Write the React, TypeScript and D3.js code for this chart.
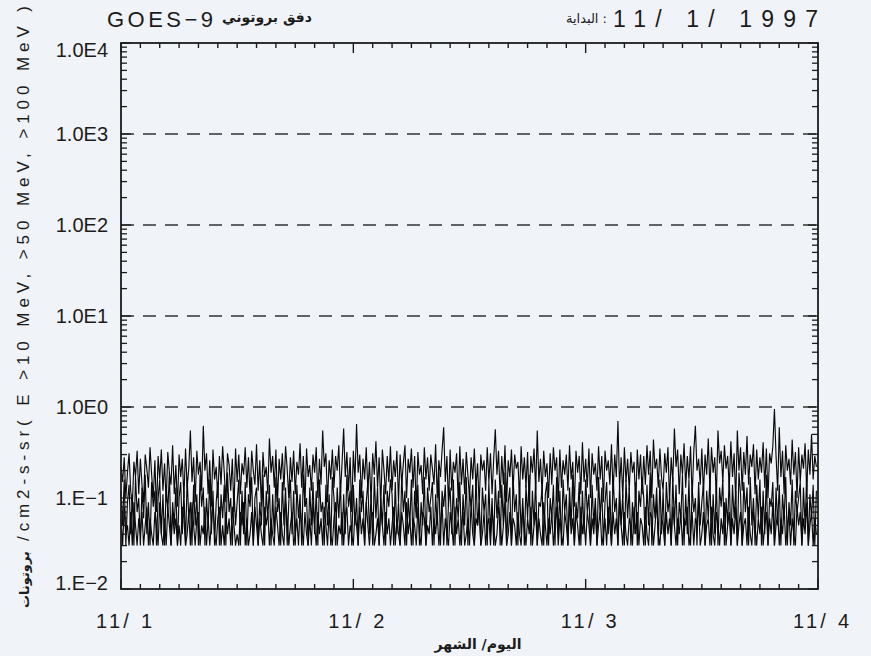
import React from 'react';
import * as d3 from 'd3';

// 10-minute samples over 3 days (11/1 - 11/4 1997), GOES-9 proton flux
const STEP_HOURS = 1 / 6;

const P10 = [
  .22,.15,.28,.10,.19,.31,.12,.08,.25,.17,.33,.11,
  .27,.14,.09,.30,.21,.13,.36,.18,.10,.26,.07,.29,
  .16,.34,.12,.24,.09,.32,.19,.14,.38,.11,.23,.08,
  .30,.17,.27,.10,.35,.13,.21,.55,.15,.28,.09,.33,
  .18,.25,.12,.62,.20,.31,.11,.26,.08,.34,.16,.22,
  .10,.29,.14,.37,.19,.09,.31,.23,.12,.27,.07,.35,
  .15,.30,.11,.24,.18,.36,.13,.28,.10,.33,.20,.14,
  .39,.12,.26,.08,.32,.17,.22,.11,.45,.19,.29,.13,
  .34,.09,.27,.16,.31,.12,.37,.21,.10,.28,.15,.33,
  .11,.25,.18,.40,.13,.29,.08,.35,.17,.23,.12,.30,
  .19,.36,.10,.27,.14,.55,.22,.31,.09,.26,.16,.34,
  .13,.29,.20,.38,.11,.24,.58,.17,.32,.12,.28,.07,
  .33,.15,.65,.19,.30,.10,.27,.16,.36,.12,.25,.09,
  .31,.18,.42,.13,.28,.08,.34,.20,.11,.29,.15,.37,
  .12,.26,.17,.33,.09,.30,.14,.24,.38,.10,.27,.19,
  .35,.13,.29,.07,.32,.18,.23,.11,.36,.16,.28,.12,
  .30,.21,.14,.39,.10,.26,.17,.33,.60,.15,.29,.08,
  .34,.12,.25,.19,.31,.09,.37,.14,.27,.11,.32,.18,
  .10,.28,.16,.35,.13,.24,.08,.30,.20,.26,.12,.36,
  .15,.31,.11,.27,.57,.18,.33,.10,.29,.14,.38,.09,
  .26,.17,.34,.12,.30,.21,.25,.10,.37,.16,.28,.13,
  .32,.08,.29,.19,.35,.12,.55,.15,.27,.11,.33,.17,
  .24,.10,.31,.14,.36,.20,.28,.09,.34,.13,.26,.18,
  .30,.12,.38,.16,.25,.08,.33,.19,.29,.11,.41,.15,
  .27,.13,.35,.10,.31,.18,.24,.12,.37,.16,.29,.09,
  .33,.20,.26,.14,.39,.11,.30,.17,.70,.13,.28,.10,
  .36,.15,.27,.12,.32,.19,.25,.08,.34,.16,.30,.11,
  .29,.14,.38,.18,.33,.10,.44,.21,.27,.13,.35,.17,
  .12,.31,.19,.36,.09,.28,.15,.58,.22,.34,.11,.30,
  .18,.40,.13,.29,.16,.37,.10,.32,.62,.20,.27,.14,
  .35,.11,.30,.18,.45,.12,.36,.19,.28,.10,.55,.24,
  .33,.15,.38,.21,.29,.13,.42,.17,.31,.09,.55,.20,
  .36,.12,.32,.18,.48,.14,.30,.22,.39,.11,.34,.16,
  .28,.19,.41,.13,.35,.10,.31,.24,.37,.95,.29,.12,
  .60,.17,.33,.11,.38,.20,.27,.14,.44,.18,.32,.10,
  .36,.15,.30,.21,.40,.12,.34,.18,.50,.16,.29,.22,
];

const P50 = [
  .12,.05,.16,.03,.09,.14,.04,.11,.03,.17,.07,.10,
  .03,.13,.06,.18,.04,.09,.03,.15,.08,.12,.03,.10,
  .16,.04,.11,.03,.14,.07,.19,.03,.09,.05,.13,.03,
  .10,.15,.04,.12,.03,.17,.06,.09,.03,.14,.05,.11,
  .03,.18,.08,.13,.03,.10,.05,.16,.04,.12,.03,.09,
  .15,.03,.11,.06,.14,.03,.19,.07,.10,.03,.13,.05,
  .09,.16,.03,.12,.04,.15,.03,.11,.08,.17,.03,.10,
  .13,.03,.09,.05,.18,.03,.12,.06,.14,.03,.11,.04,
  .17,.07,.10,.03,.15,.05,.13,.03,.09,.16,.04,.12,
  .03,.14,.06,.11,.03,.18,.08,.10,.03,.13,.05,.15,
  .04,.12,.03,.16,.07,.09,.03,.14,.05,.11,.03,.17,
  .10,.03,.13,.06,.15,.03,.11,.04,.18,.08,.12,.03,
  .14,.05,.10,.03,.16,.07,.12,.03,.09,.15,.04,.11,
  .03,.17,.06,.13,.03,.10,.05,.14,.03,.12,.08,.16,
  .11,.03,.15,.04,.09,.03,.18,.07,.12,.03,.10,.05,
  .16,.03,.12,.06,.14,.03,.09,.05,.17,.03,.13,.07,
  .10,.15,.03,.11,.05,.19,.03,.12,.08,.14,.03,.09,
  .13,.04,.16,.03,.10,.06,.15,.03,.11,.05,.17,.03,
  .12,.08,.14,.03,.18,.05,.09,.03,.13,.07,.11,.03,
  .15,.04,.10,.03,.16,.06,.12,.03,.14,.05,.19,.03,
  .09,.13,.03,.17,.07,.11,.03,.15,.04,.10,.03,.14,
  .06,.18,.03,.12,.05,.16,.03,.09,.08,.13,.03,.11,
  .15,.03,.10,.06,.14,.03,.17,.04,.12,.03,.16,.07,
  .11,.03,.13,.05,.18,.03,.09,.06,.15,.03,.12,.04,
  .16,.07,.11,.03,.14,.05,.10,.03,.17,.06,.13,.03,
  .09,.15,.04,.12,.03,.18,.07,.10,.03,.14,.05,.11,
  .03,.16,.06,.13,.03,.09,.04,.15,.03,.12,.08,.17,
  .10,.03,.14,.05,.19,.03,.11,.06,.13,.03,.16,.04,
  .12,.03,.15,.07,.10,.03,.17,.05,.14,.03,.09,.06,
  .18,.03,.11,.04,.16,.03,.13,.07,.10,.03,.15,.05,
  .09,.14,.03,.12,.06,.17,.03,.11,.04,.15,.03,.13,
  .08,.16,.03,.10,.05,.18,.03,.14,.06,.12,.03,.19,
  .11,.03,.15,.07,.13,.03,.17,.05,.10,.03,.14,.06,
  .16,.03,.12,.04,.18,.03,.10,.08,.15,.03,.13,.05,
  .14,.03,.11,.06,.17,.03,.09,.05,.16,.03,.12,.07,
  .10,.15,.03,.13,.05,.18,.03,.11,.06,.14,.03,.12,
];

const P100 = [
  .06,.03,.08,.04,.05,.03,.07,.03,.09,.05,.03,.06,
  .04,.07,.03,.05,.08,.03,.06,.04,.03,.07,.05,.03,
  .09,.04,.03,.06,.03,.08,.05,.03,.07,.04,.06,.03,
  .05,.03,.08,.06,.03,.04,.07,.03,.09,.05,.03,.06,
  .07,.03,.05,.04,.08,.03,.06,.03,.05,.09,.04,.03,
  .06,.08,.03,.05,.03,.07,.04,.06,.03,.08,.05,.03,
  .04,.03,.07,.05,.09,.03,.06,.03,.04,.07,.03,.08,
  .05,.03,.06,.04,.03,.08,.05,.07,.03,.06,.04,.03,
  .08,.05,.03,.07,.04,.03,.09,.06,.03,.05,.07,.03,
  .04,.06,.03,.08,.05,.03,.07,.04,.03,.06,.03,.09,
  .05,.03,.07,.04,.06,.03,.08,.05,.03,.07,.04,.03,
  .06,.09,.03,.05,.04,.07,.03,.06,.08,.03,.05,.04,
  .03,.07,.05,.03,.08,.04,.06,.03,.09,.05,.03,.06,
  .07,.03,.04,.06,.03,.08,.05,.03,.07,.04,.06,.03,
  .05,.08,.03,.06,.04,.03,.07,.05,.03,.09,.04,.06,
  .03,.06,.05,.03,.08,.04,.03,.07,.06,.03,.05,.04,
  .08,.03,.06,.04,.07,.03,.05,.09,.03,.06,.04,.03,
  .07,.05,.03,.08,.04,.06,.03,.05,.07,.03,.04,.06,
  .03,.09,.04,.03,.06,.05,.08,.03,.04,.07,.03,.05,
  .06,.03,.07,.05,.03,.04,.08,.06,.03,.05,.09,.03,
  .04,.07,.03,.06,.05,.03,.07,.04,.03,.08,.05,.03,
  .06,.04,.08,.03,.05,.07,.03,.06,.04,.03,.09,.05,
  .03,.06,.04,.07,.03,.05,.08,.03,.06,.04,.03,.07,
  .05,.03,.09,.04,.06,.03,.07,.05,.03,.08,.04,.06,
  .03,.07,.05,.03,.06,.04,.08,.03,.05,.07,.03,.04,
  .06,.03,.08,.05,.03,.07,.04,.06,.03,.09,.05,.03,
  .07,.04,.03,.06,.05,.03,.08,.04,.07,.03,.06,.05,
  .03,.08,.04,.03,.07,.06,.03,.05,.09,.04,.03,.06,
  .05,.03,.07,.04,.06,.03,.08,.05,.03,.06,.04,.07,
  .03,.06,.05,.08,.03,.04,.07,.03,.06,.05,.09,.03,
  .04,.07,.03,.05,.06,.03,.08,.04,.03,.07,.05,.03,
  .06,.04,.09,.03,.05,.07,.03,.06,.04,.08,.03,.05,
  .07,.03,.05,.06,.03,.08,.04,.03,.07,.05,.03,.06,
  .04,.08,.03,.05,.07,.03,.06,.04,.09,.03,.05,.07,
  .03,.06,.04,.08,.03,.05,.07,.03,.06,.04,.03,.08,
  .05,.07,.03,.06,.04,.09,.03,.05,.07,.03,.06,.04,
];

const SERIES = [P10, P50, P100];
const DAY_LABELS = ['11/ 1', '11/ 2', '11/ 3', '11/ 4'];
const Y_TICKS = [1e4, 1e3, 1e2, 1e1, 1e0, 1e-1, 1e-2];
const Y_LABELS = ['1.0E4', '1.0E3', '1.0E2', '1.0E1', '1.0E0', '1.E\u22121', '1.E\u22122'];
const THRESHOLDS = [1e3, 1e2, 1e1, 1e0];
const TITLE_LEFT = 'GOES\u22129';
const TITLE_AR = 'دفق بروتوني';
const START_AR = 'البداية :';
const START_DATE = '11/ 1/ 1997';
const Y_TITLE_AR = 'بروتونات';
const Y_TITLE = '/cm2-s-sr( E >10 MeV, >50 MeV, >100 MeV )';
const X_TITLE = 'اليوم/ الشهر';

export default function App() {
  const W = 871, H = 656;
  const x = d3.scaleLinear().domain([0, 72]).range([121, 818]);
  const y = d3.scaleLog().domain([1e-2, 1e4]).range([589, 43]);
  const [x0, x1] = x.range();
  const yb = y(1e-2), yt = y(1e4);

  const line = d3.line<number>()
    .x((_, i) => x(i * STEP_HOURS))
    .y((d) => y(d));

  const font = '"Liberation Sans", Arial, sans-serif';
  const arFont = '"DejaVu Sans", sans-serif';
  const ink = '#1c1c1c';

  const hourTicks = d3.range(0, 73, 2);
  const logTicks: { v: number; major: boolean }[] = [];
  for (let e = -2; e <= 4; e++) {
    logTicks.push({ v: Math.pow(10, e), major: true });
    if (e < 4) for (let k = 2; k <= 9; k++) logTicks.push({ v: k * Math.pow(10, e), major: false });
  }

  return (
    <div style={{ position: 'fixed', left: 0, top: 0 }}>
      <svg width={W} height={H} style={{ display: 'block' }}>
        <rect width={W} height={H} fill="#f0f3f8" />

        {SERIES.map((s, i) => (
          <path key={i} d={line(s) || ''} fill="none" stroke="#0a0a0a" strokeWidth={1.15} />
        ))}

        {THRESHOLDS.map((v) => (
          <line key={v} x1={x0} x2={x1} y1={y(v)} y2={y(v)} stroke="#333" strokeWidth={1.6} strokeDasharray="13 9" />
        ))}

        {hourTicks.map((h) => {
          const len = h % 24 === 0 ? 10 : 5;
          return (
            <g key={h}>
              <line x1={x(h)} x2={x(h)} y1={yb} y2={yb - len} stroke={ink} strokeWidth={1.4} />
              <line x1={x(h)} x2={x(h)} y1={yt} y2={yt + len} stroke={ink} strokeWidth={1.4} />
            </g>
          );
        })}

        {logTicks.map((t, i) => {
          const len = t.major ? 10 : 6;
          return (
            <g key={i}>
              <line x1={x0} x2={x0 + len} y1={y(t.v)} y2={y(t.v)} stroke={ink} strokeWidth={1.3} />
              <line x1={x1} x2={x1 - len} y1={y(t.v)} y2={y(t.v)} stroke={ink} strokeWidth={1.3} />
            </g>
          );
        })}

        <rect x={x0} y={yt} width={x1 - x0} height={yb - yt} fill="none" stroke={ink} strokeWidth={1.8} />

        {Y_TICKS.map((v, i) => (
          <text key={v} x={108} y={Math.min(Math.max(y(v), 50), 583)} dy="0.36em" textAnchor="end"
            fontFamily={font} fontSize={20} fill={ink}>{Y_LABELS[i]}</text>
        ))}

        {DAY_LABELS.map((l, i) => (
          <text key={l} x={x(i * 24) + 3} y={628} textAnchor="middle" fontFamily={font} fontSize={20}
            fill={ink} textLength={56} lengthAdjust="spacing">{l}</text>
        ))}

        <text x={478} y={649} textAnchor="middle" fontFamily={arFont} fontWeight="bold"
          fontSize={14} fill={ink}>{X_TITLE}</text>

        <g transform="translate(29,0) rotate(-90)">
          <text x={-608} y={0} textAnchor="start" fontFamily={arFont} fontWeight="bold" fontSize={13} fill={ink}>{Y_TITLE_AR}</text>
          <text x={-541} y={0} textAnchor="start" fontFamily={font} fontSize={17} fill={ink}
            textLength={535} lengthAdjust="spacing">{Y_TITLE}</text>
        </g>

        <text x={107} y={27} fontFamily={font} fontSize={22} fill={ink} textLength={106} lengthAdjust="spacing">{TITLE_LEFT}</text>
        <text x={222} y={22} fontFamily={arFont} fontWeight="bold" fontSize={14} fill={ink}>{TITLE_AR}</text>
        <text x={607} y={23} textAnchor="end" fontFamily={arFont} fontSize={13} fill={ink}>{START_AR}</text>
        <text x={613} y={27} fontFamily={font} fontSize={23} fill={ink} textLength={205} lengthAdjust="spacing">{START_DATE}</text>
      </svg>
    </div>
  );
}
